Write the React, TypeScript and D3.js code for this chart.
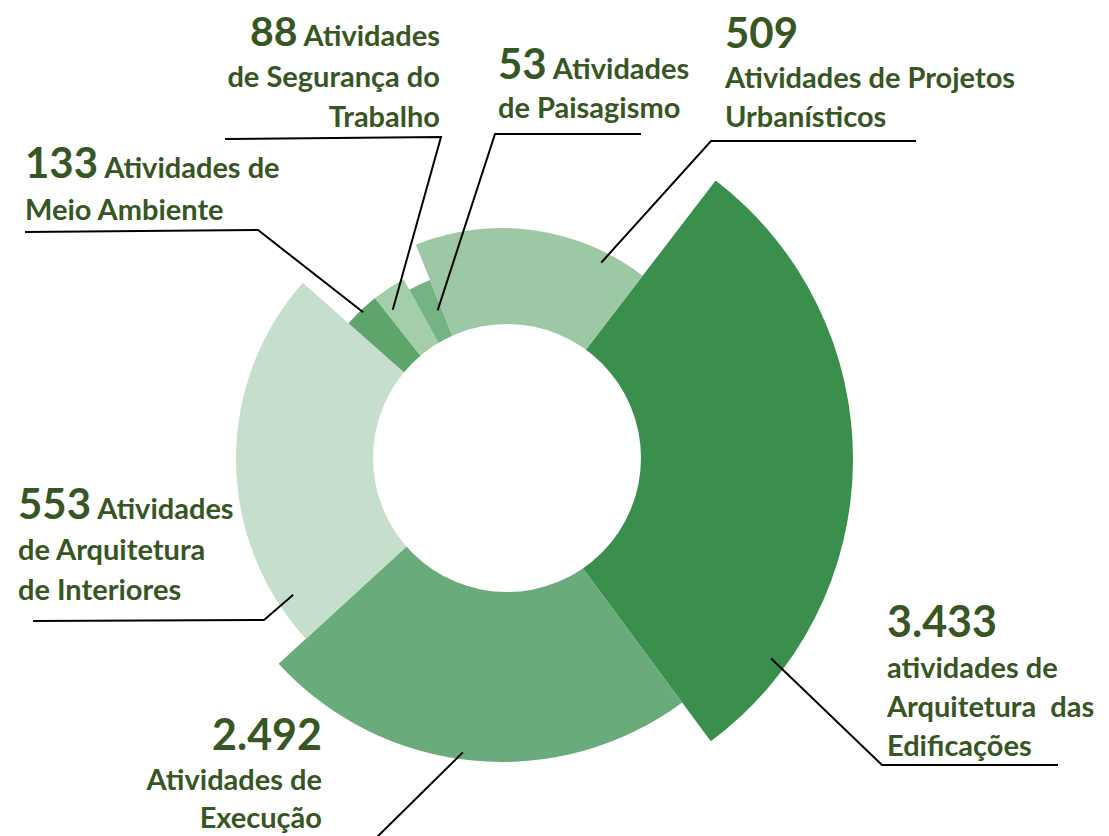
import React from 'react';
import * as d3 from 'd3';

// activity counts per area, clockwise from the top right
const categories = [
  'Arquitetura das Edificações',
  'Execução',
  'Arquitetura de Interiores',
  'Meio Ambiente',
  'Segurança do Trabalho',
  'Paisagismo',
  'Projetos Urbanísticos',
];
const values = [3433, 2492, 553, 133, 88, 53, 509];
const valueLabels = ['3.433', '2.492', '553', '133', '88', '53', '509'];
// angular share of each slice as drawn in the original (degrees)
const sliceDegrees = [106, 84, 84, 10.2, 9.6, 6.8, 59.4];
const labelLines = [
  ['atividades de', 'Arquitetura  das', 'Edificações'],
  ['Atividades de', 'Execução'],
  ['Atividades', 'de Arquitetura', 'de Interiores'],
  ['Atividades de', 'Meio Ambiente'],
  ['Atividades', 'de Segurança do', 'Trabalho'],
  ['Atividades', 'de Paisagismo'],
  ['Atividades de Projetos', 'Urbanísticos'],
];

const W = 1109;
const H = 836;
const cx = 502;
const cy = 459;
const hole = { x: 507, y: 458, r: 134 };
const startDeg = 37.5;

const colors = ['#398f4b', '#6aab7c', '#c6dfcc', '#5da56b', '#a4cdaa', '#75b383', '#9dc8a6'];
const outerRadius = [351, 303, 266, 205, 205, 193, 231];
const textColor = '#375623';
const font = 'Lato, "Open Sans", sans-serif';

// label layout: anchor, x, first baseline, number on its own line?, sizes
const labelLayout = [
  { anchor: 'start', x: 887, y: 637, own: true, num: 43, gap: 41, lh: 39 },
  { anchor: 'end', x: 322, y: 750, own: true, num: 43, gap: 40, lh: 38 },
  { anchor: 'start', x: 18, y: 519, own: false, num: 42, gap: 41, lh: 40 },
  { anchor: 'start', x: 25, y: 178, own: false, num: 42, gap: 42, lh: 42 },
  { anchor: 'end', x: 440, y: 46, own: false, num: 41, gap: 41, lh: 40 },
  { anchor: 'start', x: 498, y: 79, own: false, num: 42, gap: 39, lh: 40 },
  { anchor: 'start', x: 725, y: 48, own: true, num: 42, gap: 40, lh: 39 },
];
// leader: where on the slice (fraction of its span, radius), then elbow and end
const leaders = [
  { frac: 0.84, r: 335, elbow: [882, 765], end: [1058, 765] },
  { frac: 0.525, r: 296, elbow: [372, 842], end: [372, 842] },
  { frac: 0.113, r: 249, elbow: [264, 620], end: [33, 621] },
  { frac: 0.5, r: 202, elbow: [258, 230], end: [25, 232] },
  { frac: 0.22, r: 185, elbow: [441, 137], end: [225, 139] },
  { frac: 0.78, r: 162, elbow: [495, 134], end: [641, 134] },
  { frac: 0.82, r: 220, elbow: [711, 141], end: [916, 141] },
];

export default function App() {
  const toRad = (d: number) => (d * Math.PI) / 180;
  const pie = d3
    .pie<number>()
    .sort(null)
    .value((d) => d)
    .startAngle(toRad(startDeg))
    .endAngle(toRad(startDeg) + 2 * Math.PI);
  const arcs = pie(sliceDegrees);
  const arc = d3.arc<d3.PieArcDatum<number>>().innerRadius(0);

  return (
    <svg
      width={W}
      height={H}
      style={{ position: 'absolute', left: 0, top: 0, display: 'block', background: '#fff' }}
    >
      <g transform={`translate(${cx},${cy})`}>
        {arcs.map((a, i) => (
          <path
            key={categories[i]}
            d={arc.outerRadius(outerRadius[i])(a) || ''}
            fill={colors[i]}
            data-value={values[i]}
          />
        ))}
      </g>
      <circle cx={hole.x} cy={hole.y} r={hole.r} fill="#fff" />

      {arcs.map((a, i) => {
        const L = leaders[i];
        const ang = a.startAngle + L.frac * (a.endAngle - a.startAngle);
        const [px, py] = d3.pointRadial(ang, L.r);
        const pts: [number, number][] = [[cx + px, cy + py], L.elbow as [number, number], L.end as [number, number]];
        return (
          <path
            key={'l' + i}
            d={d3.line()(pts) || ''}
            fill="none"
            stroke="#000"
            strokeWidth={2}
          />
        );
      })}

      {labelLines.map((lines, i) => {
        const lay = labelLayout[i];
        let y = lay.y;
        const rows: React.ReactNode[] = [];
        if (lay.own) {
          rows.push(
            <text key="n" x={lay.x} y={y} textAnchor={lay.anchor} fontSize={lay.num} fontWeight={700}>
              {valueLabels[i]}
            </text>
          );
          y += lay.gap;
          lines.forEach((ln, j) => {
            rows.push(
              <text key={j} x={lay.x} y={y + j * lay.lh} textAnchor={lay.anchor} fontSize={29} fontWeight={700} style={{ whiteSpace: 'pre' }}>
                {ln}
              </text>
            );
          });
        } else {
          rows.push(
            <text key="n" x={lay.x} y={y} textAnchor={lay.anchor} fontWeight={700}>
              <tspan fontSize={lay.num}>{valueLabels[i]}</tspan>
              <tspan fontSize={29}>{' ' + lines[0]}</tspan>
            </text>
          );
          lines.slice(1).forEach((ln, j) => {
            rows.push(
              <text key={j} x={lay.x} y={y + lay.gap + j * lay.lh} textAnchor={lay.anchor} fontSize={29} fontWeight={700}>
                {ln}
              </text>
            );
          });
        }
        return (
          <g key={'t' + i} fill={textColor} fontFamily={font}>
            {rows}
          </g>
        );
      })}
    </svg>
  );
}
